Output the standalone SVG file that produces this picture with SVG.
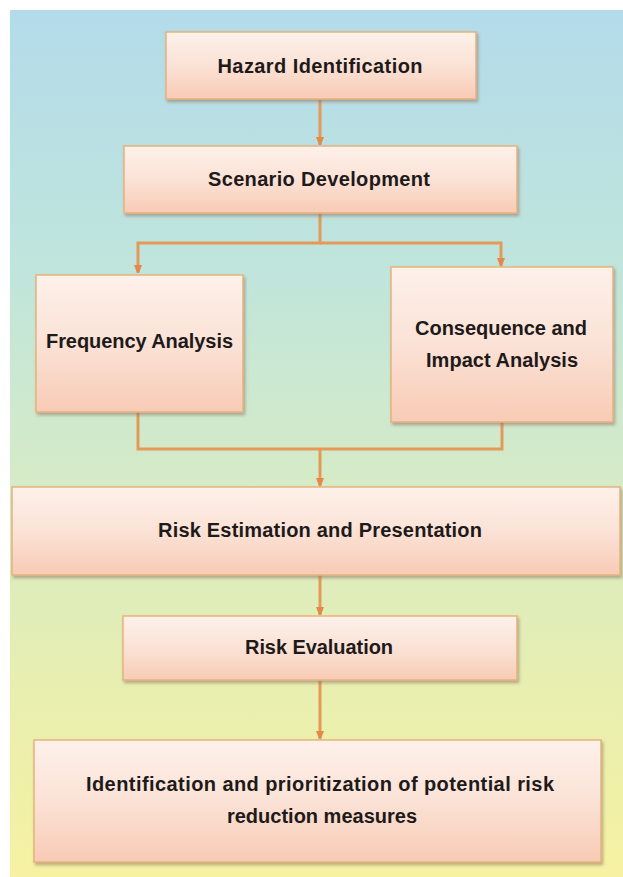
<svg xmlns="http://www.w3.org/2000/svg" width="623" height="877" viewBox="0 0 623 877">
<style>
.box{fill:url(#boxg);stroke:#e6b27e;stroke-width:1.5;filter:url(#sh)}
.t{font-family:"Liberation Sans",Arial,sans-serif;font-weight:bold;font-size:20px;fill:#1e1a1a;text-anchor:middle}
.c{fill:none;stroke:#e39a58;stroke-width:3}
</style>
<defs>
<linearGradient id="bg" x1="0" y1="0" x2="0" y2="1">
<stop offset="0" stop-color="#b3dbea"/>
<stop offset="0.3" stop-color="#c0e5dc"/>
<stop offset="0.55" stop-color="#d6ebc6"/>
<stop offset="0.8" stop-color="#e9efae"/>
<stop offset="1" stop-color="#f6f2a2"/>
</linearGradient>
<linearGradient id="boxg" x1="0" y1="0" x2="0" y2="1">
<stop offset="0" stop-color="#fdf1ea"/>
<stop offset="0.5" stop-color="#fbe2d6"/>
<stop offset="1" stop-color="#f8cbb5"/>
</linearGradient>
<filter id="sh" x="-10%" y="-10%" width="120%" height="130%">
<feDropShadow dx="1.5" dy="2.5" stdDeviation="1.5" flood-color="#8a7060" flood-opacity="0.55"/>
</filter>
<marker id="ah" markerWidth="10" markerHeight="10" refX="5" refY="9" orient="0" markerUnits="userSpaceOnUse" viewBox="0 0 10 10">
<path d="M1,1 L9,1 L6.5,7.5 Q5,10 3.5,7.5 Z" fill="#e38a4a"/>
</marker>
</defs>
<rect x="10" y="10" width="613" height="867" fill="url(#bg)"/>
<g id="connectors">
<path class="c" d="M320,100 V145" marker-end="url(#ah)"/>
<path class="c" d="M320,213 V243 H138 V273" marker-end="url(#ah)"/>
<path class="c" d="M320,243 H501 V266" marker-end="url(#ah)"/>
<path class="c" d="M138,412 V449 H502 V422"/>
<path class="c" d="M320,449 V486" marker-end="url(#ah)"/>
<path class="c" d="M320,575 V615" marker-end="url(#ah)"/>
<path class="c" d="M320,680 V739" marker-end="url(#ah)"/>
</g>
<g id="hazard">
<rect class="box" x="166" y="32" width="310" height="67"/>
<text class="t" x="320" y="73" textLength="205">Hazard Identification</text>
</g>
<g id="scenario">
<rect class="box" x="124" y="146" width="393" height="67"/>
<text class="t" x="319" y="186" textLength="222">Scenario Development</text>
</g>
<g id="frequency">
<rect class="box" x="36" y="275" width="207" height="137"/>
<text class="t" x="139.5" y="348" textLength="187">Frequency Analysis</text>
</g>
<g id="consequence">
<rect class="box" x="391" y="267" width="222" height="155"/>
<text class="t" x="501" y="335" textLength="172">Consequence and</text>
<text class="t" x="502" y="367" textLength="152">Impact Analysis</text>
</g>
<g id="estimation">
<rect class="box" x="12" y="487" width="608" height="88"/>
<text class="t" x="320" y="537" textLength="324">Risk Estimation and Presentation</text>
</g>
<g id="evaluation">
<rect class="box" x="123" y="616" width="394" height="64"/>
<text class="t" x="319" y="654" textLength="148">Risk Evaluation</text>
</g>
<g id="measures">
<rect class="box" x="34" y="740" width="567" height="122"/>
<text class="t" x="320" y="791" textLength="468">Identification and prioritization of potential risk</text>
<text class="t" x="322" y="823">reduction measures</text>
</g>
</svg>
